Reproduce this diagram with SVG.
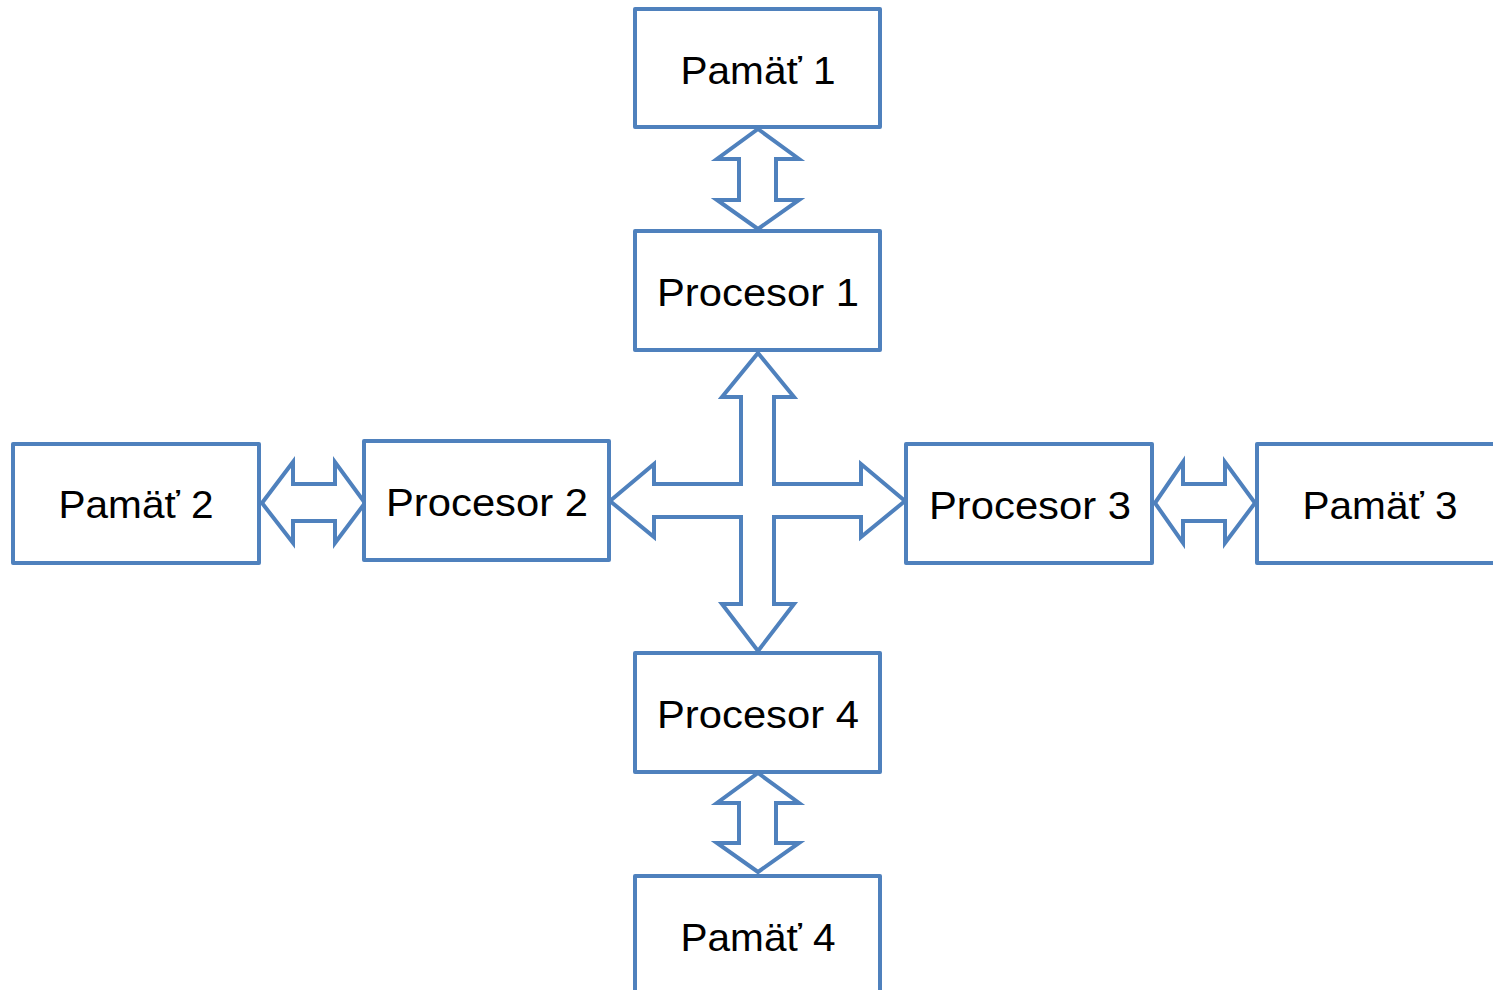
<svg xmlns="http://www.w3.org/2000/svg" width="1493" height="990" viewBox="0 0 1493 990">
<style>
.box{fill:#FFFFFF;stroke:#4F81BD;stroke-width:4;stroke-linejoin:round}
.arr{fill:#FFFFFF;stroke:#4F81BD;stroke-width:4;stroke-linejoin:miter;stroke-miterlimit:10}
.t{font-family:"Liberation Sans",Arial,sans-serif;font-size:39px;fill:#000000;text-anchor:middle}
</style>
<rect width="1493" height="990" fill="#FFFFFF"/>
<g id="connectors">
<path class="arr" d="M758,129 L799,159 L776,159 L776,200 L799,200 L758,229 L717,200 L739,200 L739,159 L717,159 Z"/>
<path class="arr" d="M758,773 L799,803 L776,803 L776,843 L799,843 L758,872 L717,843 L739,843 L739,803 L717,803 Z"/>
<path class="arr" d="M262,503 L293,462 L293,484 L335,484 L335,462 L365,503 L335,543 L335,521 L293,521 L293,543 Z"/>
<path class="arr" d="M1155,503 L1183,462 L1183,484 L1225,484 L1225,462 L1255,503 L1225,543 L1225,521 L1183,521 L1183,543 Z"/>
<path class="arr" d="M758,353 L794,397 L774,397 L774,484 L861,484 L861,464 L905,501 L861,537 L861,517 L774,517 L774,604 L794,604 L758,651 L722,604 L741,604 L741,517 L654,517 L654,537 L610,501 L654,464 L654,484 L741,484 L741,397 L722,397 Z"/>
</g>
<g id="pamat1"><rect class="box" x="635" y="9" width="245" height="118"/><text class="t" x="758" y="84" textLength="155" lengthAdjust="spacingAndGlyphs">Pamäť 1</text></g>
<g id="procesor1"><rect class="box" x="635" y="231" width="245" height="119"/><text class="t" x="758" y="306" textLength="202" lengthAdjust="spacingAndGlyphs">Procesor 1</text></g>
<g id="pamat2"><rect class="box" x="13" y="444" width="246" height="119"/><text class="t" x="136" y="518" textLength="155" lengthAdjust="spacingAndGlyphs">Pamäť 2</text></g>
<g id="procesor2"><rect class="box" x="364" y="441" width="245" height="119"/><text class="t" x="487" y="516" textLength="202" lengthAdjust="spacingAndGlyphs">Procesor 2</text></g>
<g id="procesor3"><rect class="box" x="906" y="444" width="246" height="119"/><text class="t" x="1030" y="519" textLength="202" lengthAdjust="spacingAndGlyphs">Procesor 3</text></g>
<g id="pamat3"><rect class="box" x="1257" y="444" width="246" height="119"/><text class="t" x="1380" y="519" textLength="155" lengthAdjust="spacingAndGlyphs">Pamäť 3</text></g>
<g id="procesor4"><rect class="box" x="635" y="653" width="245" height="119"/><text class="t" x="758" y="728" textLength="202" lengthAdjust="spacingAndGlyphs">Procesor 4</text></g>
<g id="pamat4"><rect class="box" x="635" y="876" width="245" height="130"/><text class="t" x="758" y="951" textLength="155" lengthAdjust="spacingAndGlyphs">Pamäť 4</text></g>
</svg>
